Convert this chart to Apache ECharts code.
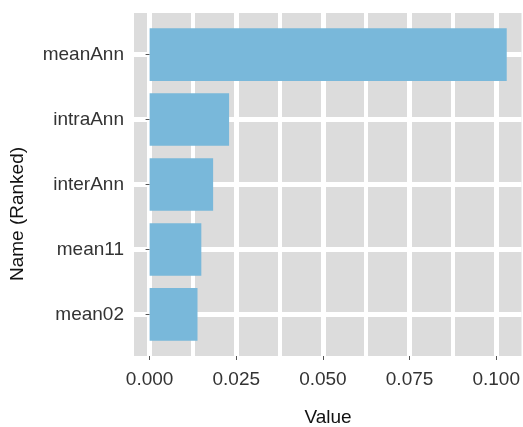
<!DOCTYPE html>
<html>
<head>
<meta charset="utf-8">
<script src="https://cdn.jsdelivr.net/npm/echarts@6/dist/echarts.min.js"></script>
<style>html,body{margin:0;padding:0;background:#fff;}#c{width:523px;height:427px;}</style>
</head>
<body>
<div id="c"></div>
<script>
// ---- data ----
var names = ['meanAnn', 'intraAnn', 'interAnn', 'mean11', 'mean02'];
var values = [0.1029, 0.0229, 0.0183, 0.0149, 0.0138];
var xMajorTicks = [0, 0.025, 0.05, 0.075, 0.1];
var xMinorTicks = [0.0125, 0.0375, 0.0625, 0.0875];
var yPositions = [1, 2, 3, 4, 5];
var xTitle = 'Value';
var yTitle = 'Name (Ranked)';

// ---- layout ----
var W = 523, H = 427;
var pLeft = 134, pRight = 1, pTop = 13, pBottom = 71;
var xMin = -0.0045, xMax = 0.1073;
var yMin = 0.36, yMax = 5.64;
var unit = (H - pTop - pBottom) / (yMax - yMin);
var g1Top = pTop + (0.5 - yMin) * unit;
var g1Bottom = pBottom + (yMax - 5.5) * unit;

var labelFont = { fontFamily: 'Liberation Sans, Arial, sans-serif', fontSize: 19, color: '#333' };

var chart = echarts.init(document.getElementById('c'), null, { renderer: 'canvas' });
chart.setOption({
  animation: false,
  backgroundColor: '#fff',
  grid: [
    { left: pLeft, right: pRight, top: pTop, bottom: pBottom, show: true, backgroundColor: '#dcdcdc', borderWidth: 0 },
    { left: pLeft, right: pRight, top: g1Top, bottom: g1Bottom, show: false }
  ],
  xAxis: [
    {
      gridIndex: 0, type: 'value', min: xMin, max: xMax,
      axisLine: { show: false },
      axisTick: { show: true, customValues: xMajorTicks, length: 4, lineStyle: { color: '#555', width: 1 } },
      axisLabel: { show: true, customValues: xMajorTicks, margin: 14, formatter: function (v) { return v.toFixed(3); },
        fontFamily: labelFont.fontFamily, fontSize: labelFont.fontSize, color: labelFont.color },
      splitLine: { show: true, lineStyle: { color: '#fff', width: 5 } }
    },
    {
      gridIndex: 0, type: 'value', min: xMin, max: xMax,
      axisLine: { show: false },
      axisTick: { show: false, customValues: xMinorTicks },
      axisLabel: { show: false },
      splitLine: { show: true, lineStyle: { color: '#fff', width: 4 } }
    },
    { gridIndex: 1, type: 'value', min: xMin, max: xMax, show: false }
  ],
  yAxis: [
    {
      gridIndex: 0, type: 'value', min: yMin, max: yMax, inverse: true,
      axisLine: { show: false },
      axisTick: { show: true, customValues: yPositions, length: 4, lineStyle: { color: '#555', width: 1 } },
      axisLabel: { show: true, customValues: yPositions, margin: 10,
        formatter: function (v) { return names[Math.round(v) - 1]; },
        fontFamily: labelFont.fontFamily, fontSize: labelFont.fontSize, color: labelFont.color },
      splitLine: { show: true, lineStyle: { color: '#fff', width: 5 } }
    },
    { gridIndex: 1, type: 'category', data: names, inverse: true, show: false }
  ],
  series: [
    {
      type: 'bar', xAxisIndex: 2, yAxisIndex: 1,
      data: values, barWidth: '81%',
      itemStyle: { color: '#79b8da' }
    }
  ],
  graphic: [
    { type: 'text', x: 328, y: 418, style: { text: xTitle, fontFamily: labelFont.fontFamily, fontSize: 19, fill: '#111', align: 'center', verticalAlign: 'middle' } },
    { type: 'text', x: 18, y: 214, rotation: Math.PI / 2, style: { text: yTitle, fontFamily: labelFont.fontFamily, fontSize: 19, fill: '#111', align: 'center', verticalAlign: 'middle' } }
  ]
});
</script>
</body>
</html>
